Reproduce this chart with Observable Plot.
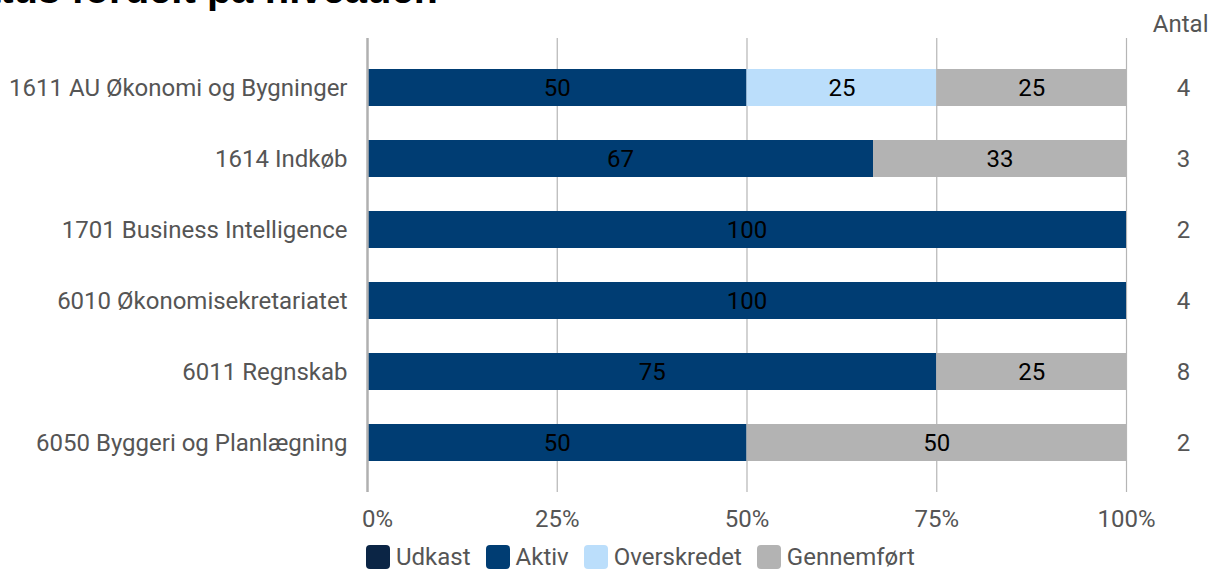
<!DOCTYPE html>
<html>
<head>
<meta charset="utf-8">
<script src="https://cdn.jsdelivr.net/npm/d3@7"></script>
<script src="https://cdn.jsdelivr.net/npm/@observablehq/plot@0.6"></script>
<style>
  html, body { margin: 0; padding: 0; background: #fff; overflow: hidden; }
  body { width: 1211px; height: 570px; position: relative; font-family: Roboto, sans-serif; }
  #title { position: absolute; left: -62px; top: -31px; font: bold 40px/40px "Liberation Sans", Arial, sans-serif; color: #000; white-space: nowrap; }
  #chart { position: absolute; left: 0; top: 0; }
  #legend { position: absolute; left: 366px; top: 544px; display: flex; align-items: center; font: 24px/26px Roboto, sans-serif; color: #555; }
  .item { display: flex; align-items: center; margin-right: 15px; }
  .sw { width: 24px; height: 24px; border-radius: 4px; margin-right: 6px; }
</style>
</head>
<body>
<div id="title">Status fordelt på niveauer.</div>
<div id="chart"></div>
<div id="legend"></div>
<script>
const categories = ["1611 AU Økonomi og Bygninger", "1614 Indkøb", "1701 Business Intelligence", "6010 Økonomisekretariatet", "6011 Regnskab", "6050 Byggeri og Planlægning"];
const statuses = ["Udkast", "Aktiv", "Overskredet", "Gennemført"];
const udkast = [0, 0, 0, 0, 0, 0];
const aktiv = [50, 66.67, 100, 100, 75, 50];
const overskredet = [25, 0, 0, 0, 0, 0];
const gennemfort = [25, 33.33, 0, 0, 25, 50];
const antal = [4, 3, 2, 4, 8, 2];
const xTicks = [0, 25, 50, 75, 100];
const colors = ["#0b2545", "#003d73", "#bbdefb", "#b3b3b3"];

const series = [udkast, aktiv, overskredet, gennemfort];
const rows = [];
categories.forEach((c, i) => {
  statuses.forEach((s, j) => rows.push({cat: c, status: s, value: series[j][i]}));
});
const counts = categories.map((c, i) => ({cat: c, n: antal[i]}));

const chart = Plot.plot({
  width: 1211,
  height: 535,
  marginTop: 38,
  marginBottom: 43,
  marginLeft: 367,
  marginRight: 85,
  style: {fontFamily: "Roboto, sans-serif", fontSize: "24px", color: "#555"},
  x: {domain: [0, 100], axis: null},
  y: {domain: categories, axis: null, paddingInner: 0.48, paddingOuter: 0.42},
  color: {domain: statuses, range: colors},
  marks: [
    Plot.ruleX(xTicks.slice(1), {stroke: "#b5b5b5", strokeWidth: 1.2}),
    Plot.barX(rows, Plot.stackX({x: "value", y: "cat", fill: "status", order: statuses})),
    Plot.text(rows.filter(d => d.value > 0), Plot.stackX({x: "value", y: "cat", order: statuses, z: "status", text: d => String(Math.round(d.value)), fill: "#000", fontSize: 24})),
    Plot.ruleX([0], {stroke: "#b0b0b0", strokeWidth: 2.5}),
    Plot.axisY({tickSize: 0, tickPadding: 20, fontSize: 24, fill: "#555", label: null}),
    Plot.axisX([0], {tickSize: 0, tickPadding: 17, fontSize: 24, fill: "#555", dx: 10, tickFormat: d => d + "%", label: null}),
    Plot.axisX(xTicks.slice(1), {tickSize: 0, tickPadding: 17, fontSize: 24, fill: "#555", tickFormat: d => d + "%", label: null}),
    Plot.text(counts, {x: 100, y: "cat", text: "n", dx: 57, fontSize: 24, fill: "#555"}),
    Plot.text(["Antal"], {frameAnchor: "top-right", text: d => d, dx: 82, dy: -24, fontSize: 24, fill: "#555"})
  ]
});
document.getElementById("chart").appendChild(chart);

const legend = document.getElementById("legend");
statuses.forEach((s, j) => {
  const item = document.createElement("div");
  item.className = "item";
  const sw = document.createElement("div");
  sw.className = "sw";
  sw.style.background = colors[j];
  const t = document.createElement("span");
  t.textContent = s;
  item.appendChild(sw);
  item.appendChild(t);
  legend.appendChild(item);
});
</script>
</body>
</html>
